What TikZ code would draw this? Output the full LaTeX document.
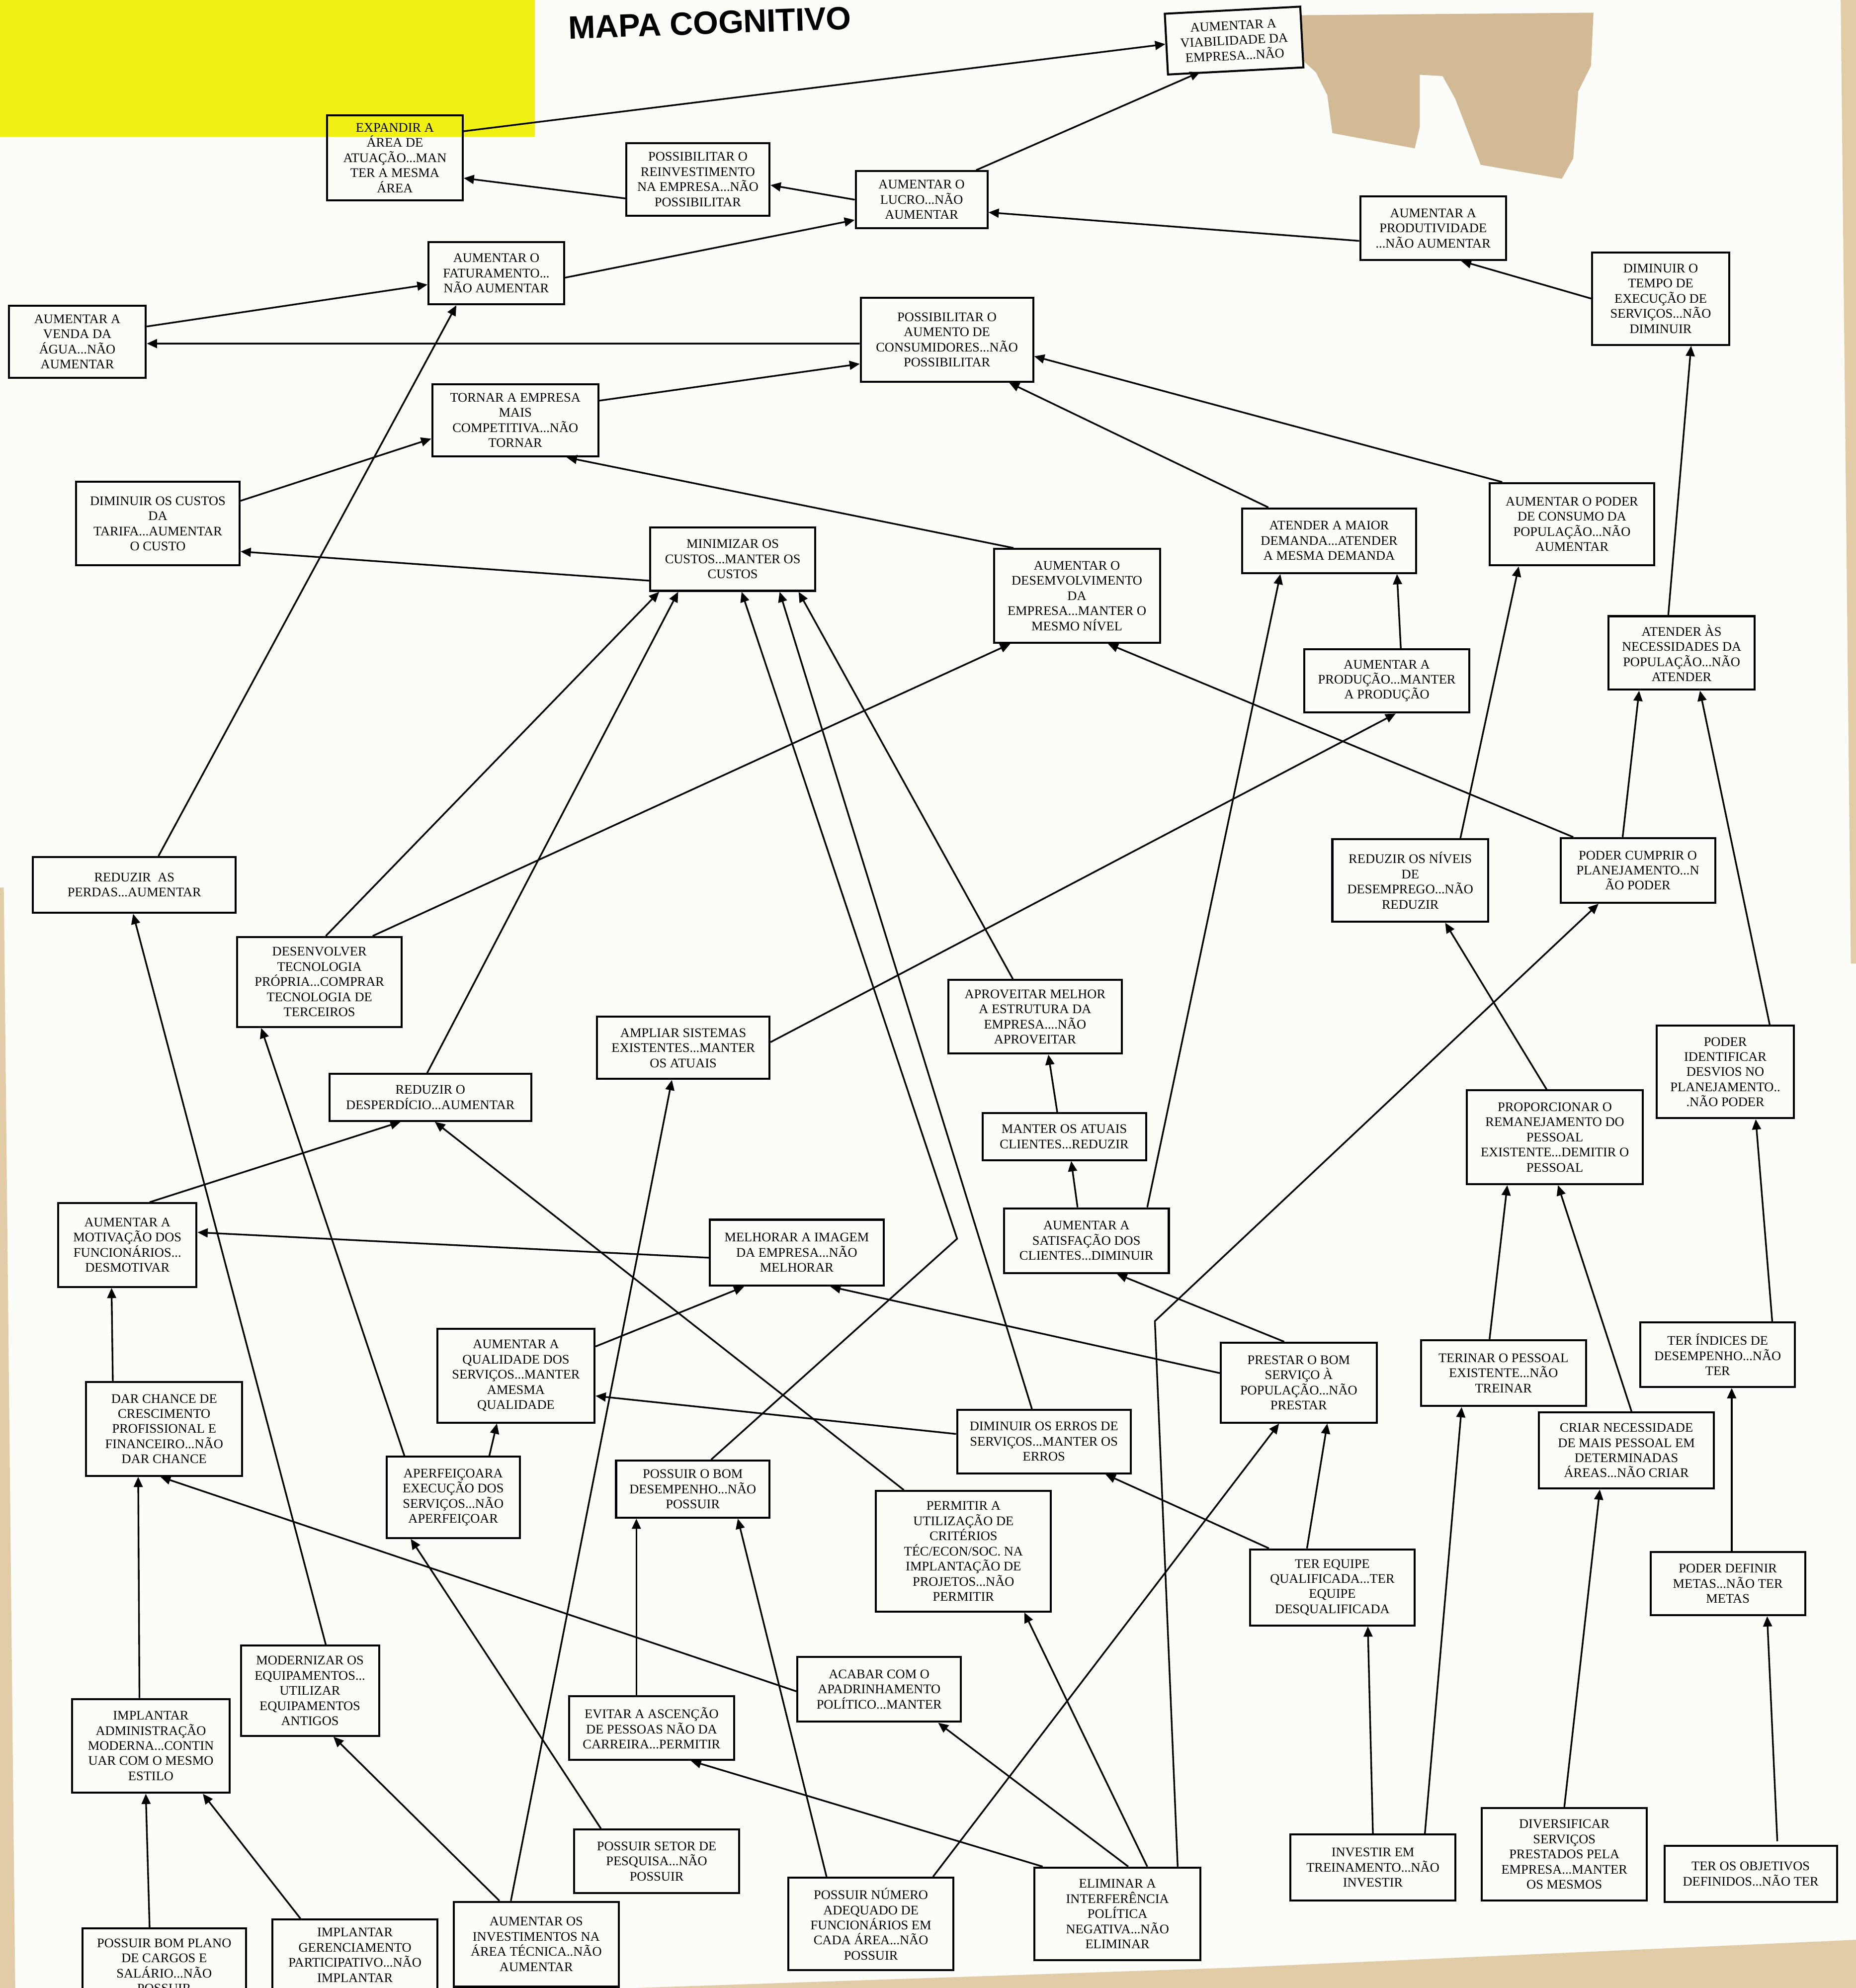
\documentclass[tikz,border=0pt]{standalone}
\usepackage{fontspec}
\setmainfont{Liberation Serif}
\newfontfamily\titlefont{Liberation Sans}
\usetikzlibrary{arrows.meta,calc}

\definecolor{papel}{RGB}{252,252,248}
\definecolor{marca}{RGB}{240,240,18}
\definecolor{rasgo}{RGB}{210,186,150}
\definecolor{mesa}{RGB}{226,204,168}

\begin{document}
\begin{tikzpicture}[x=0.02cm,y=-0.02cm,
  conceito/.style={draw=black,line width=0.9pt,align=center,inner sep=1pt,
    font={\fontsize{5.9}{6.8}\selectfont}},
  tam/.style 2 args={minimum width=#1*0.02cm,minimum height=#2*0.02cm},
  seta/.style={line width=0.75pt,-{Triangle[length=4.6pt,width=4pt]}}]
\useasboundingbox (0,0) rectangle (1464,1568);
\clip (0,0) rectangle (1464,1568);
\fill[papel] (0,0) rectangle (1464,1568);
\fill[marca] (0,0) rectangle (422,108);
\fill[rasgo] (1026,12) -- (1257,10) -- (1255,52) -- (1245,72) -- (1241,125) -- (1232,141)
  -- (1168,130) -- (1148,78) -- (1138,60) -- (1120,59) -- (1120,100) -- (1116,117)
  -- (1051,105) -- (1047,75) -- (1038,57) -- (1027,47) -- cycle;
\fill[mesa] (1452,0) -- (1464,0) -- (1464,760) -- (1460,760) -- cycle;
\fill[mesa] (0,700) -- (3,700) -- (12,1568) -- (0,1568) -- cycle;
\fill[mesa] (500,1568) -- (972,1552) -- (1464,1530) -- (1464,1568) -- cycle;

\node (titulo) at (560,18) [rotate=2,font={\titlefont\bfseries\fontsize{14.5}{17}\selectfont}]{MAPA COGNITIVO};

\node (expandir) at (311.5,124.5) [conceito,tam={107}{67}]{EXPANDIR A\\ÁREA DE\\ATUAÇÃO...MAN\\TER A MESMA\\ÁREA};
\node (viab) at (973.5,32) [conceito,tam={107}{48},rotate=3]{AUMENTAR A\\VIABILIDADE DA\\EMPRESA...NÃO};
\node (reinvest) at (550.5,141.5) [conceito,tam={113}{57}]{POSSIBILITAR O\\REINVESTIMENTO\\NA EMPRESA...NÃO\\POSSIBILITAR};
\node (lucro) at (727,157.5) [conceito,tam={104}{45}]{AUMENTAR O\\LUCRO...NÃO\\AUMENTAR};
\node (produt) at (1130.5,180) [conceito,tam={115}{50}]{AUMENTAR A\\PRODUTIVIDADE\\...NÃO AUMENTAR};
\node (tempo) at (1310,235.5) [conceito,tam={108}{73}]{DIMINUIR O\\TEMPO DE\\EXECUÇÃO DE\\SERVIÇOS...NÃO\\DIMINUIR};
\node (fatur) at (391.5,215.5) [conceito,tam={107}{49}]{AUMENTAR O\\FATURAMENTO...\\NÃO AUMENTAR};
\node (venda) at (61,269.5) [conceito,tam={108}{57}]{AUMENTAR A\\VENDA DA\\ÁGUA...NÃO\\AUMENTAR};
\node (consum) at (747,268) [conceito,tam={136}{66}]{POSSIBILITAR O\\AUMENTO DE\\CONSUMIDORES...NÃO\\POSSIBILITAR};
\node (compet) at (406.5,331.5) [conceito,tam={131}{57}]{TORNAR A EMPRESA\\MAIS\\COMPETITIVA...NÃO\\TORNAR};
\node (tarifa) at (124.5,413) [conceito,tam={129}{66}]{DIMINUIR OS CUSTOS\\DA\\TARIFA...AUMENTAR\\O CUSTO};
\node (minim) at (578,441) [conceito,tam={130}{50}]{MINIMIZAR OS\\CUSTOS...MANTER OS\\CUSTOS};
\node (desenv) at (849.5,470) [conceito,tam={131}{74}]{AUMENTAR O\\DESEMVOLVIMENTO\\DA\\EMPRESA...MANTER O\\MESMO NÍVEL};
\node (demanda) at (1048.5,426.5) [conceito,tam={137}{51}]{ATENDER A MAIOR\\DEMANDA...ATENDER\\A MESMA DEMANDA};
\node (poderc) at (1240,413.5) [conceito,tam={130}{65}]{AUMENTAR O PODER\\DE CONSUMO DA\\POPULAÇÃO...NÃO\\AUMENTAR};
\node (producao) at (1094,537) [conceito,tam={130}{50}]{AUMENTAR A\\PRODUÇÃO...MANTER\\A PRODUÇÃO};
\node (necess) at (1326.5,515) [conceito,tam={115}{58}]{ATENDER ÀS\\NECESSIDADES DA\\POPULAÇÃO...NÃO\\ATENDER};
\node (perdas) at (106,698) [conceito,tam={160}{44}]{REDUZIR\ \ AS\\PERDAS...AUMENTAR};
\node (desemp) at (1112.5,694.5) [conceito,tam={123}{65}]{REDUZIR OS NÍVEIS\\DE\\DESEMPREGO...NÃO\\REDUZIR};
\node (planej) at (1292,686.5) [conceito,tam={122}{51}]{PODER CUMPRIR O\\PLANEJAMENTO...N\\ÃO PODER};
\node (tecno) at (252,774.5) [conceito,tam={130}{71}]{DESENVOLVER\\TECNOLOGIA\\PRÓPRIA...COMPRAR\\TECNOLOGIA DE\\TERCEIROS};
\node (aprov) at (816.5,802) [conceito,tam={137}{58}]{APROVEITAR MELHOR\\A ESTRUTURA DA\\EMPRESA....NÃO\\APROVEITAR};
\node (ampliar) at (539,826.5) [conceito,tam={136}{49}]{AMPLIAR SISTEMAS\\EXISTENTES...MANTER\\OS ATUAIS};
\node (ident) at (1361,845.5) [conceito,tam={108}{73}]{PODER\\IDENTIFICAR\\DESVIOS NO\\PLANEJAMENTO..\\.NÃO PODER};
\node (desperd) at (339.5,865.5) [conceito,tam={159}{37}]{REDUZIR O\\DESPERDÍCIO...AUMENTAR};
\node (clientes) at (839.5,896.5) [conceito,tam={129}{37}]{MANTER OS ATUAIS\\CLIENTES...REDUZIR};
\node (reman) at (1226.5,897) [conceito,tam={139}{74}]{PROPORCIONAR O\\REMANEJAMENTO DO\\PESSOAL\\EXISTENTE...DEMITIR O\\PESSOAL};
\node (motiv) at (100.5,982) [conceito,tam={109}{66}]{AUMENTAR A\\MOTIVAÇÃO DOS\\FUNCIONÁRIOS...\\DESMOTIVAR};
\node (imagem) at (628.5,988) [conceito,tam={137}{52}]{MELHORAR A IMAGEM\\DA EMPRESA...NÃO\\MELHORAR};
\node (satisf) at (857,978.5) [conceito,tam={130}{51}]{AUMENTAR A\\SATISFAÇÃO DOS\\CLIENTES...DIMINUIR};
\node (qualid) at (407,1085) [conceito,tam={124}{74}]{AUMENTAR A\\QUALIDADE DOS\\SERVIÇOS...MANTER\\AMESMA\\QUALIDADE};
\node (prestar) at (1024.5,1090.5) [conceito,tam={123}{63}]{PRESTAR O BOM\\SERVIÇO À\\POPULAÇÃO...NÃO\\PRESTAR};
\node (treinar) at (1186,1083) [conceito,tam={130}{52}]{TERINAR O PESSOAL\\EXISTENTE...NÃO\\TREINAR};
\node (indices) at (1355,1068.5) [conceito,tam={122}{51}]{TER ÍNDICES DE\\DESEMPENHO...NÃO\\TER};
\node (cresc) at (129.5,1127) [conceito,tam={123}{74}]{DAR CHANCE DE\\CRESCIMENTO\\PROFISSIONAL E\\FINANCEIRO...NÃO\\DAR CHANCE};
\node (erros) at (823.5,1137) [conceito,tam={137}{50}]{DIMINUIR OS ERROS DE\\SERVIÇOS...MANTER OS\\ERROS};
\node (aperf) at (357.5,1181) [conceito,tam={105}{64}]{APERFEIÇOARA\\EXECUÇÃO DOS\\SERVIÇOS...NÃO\\APERFEIÇOAR};
\node (bomdes) at (546.5,1174.5) [conceito,tam={121}{45}]{POSSUIR O BOM\\DESEMPENHO...NÃO\\POSSUIR};
\node (criter) at (760,1223.5) [conceito,tam={138}{95}]{PERMITIR A\\UTILIZAÇÃO DE\\CRITÉRIOS\\TÉC/ECON/SOC. NA\\IMPLANTAÇÃO DE\\PROJETOS...NÃO\\PERMITIR};
\node (criar) at (1283,1144) [conceito,tam={138}{60}]{CRIAR NECESSIDADE\\DE MAIS PESSOAL EM\\DETERMINADAS\\ÁREAS...NÃO CRIAR};
\node (equipe) at (1051,1252) [conceito,tam={130}{60}]{TER EQUIPE\\QUALIFICADA...TER\\EQUIPE\\DESQUALIFICADA};
\node (metas) at (1363,1249) [conceito,tam={122}{50}]{PODER DEFINIR\\METAS...NÃO TER\\METAS};
\node (modern) at (244.5,1333.5) [conceito,tam={109}{71}]{MODERNIZAR OS\\EQUIPAMENTOS...\\UTILIZAR\\EQUIPAMENTOS\\ANTIGOS};
\node (apadr) at (693.5,1332.5) [conceito,tam={129}{51}]{ACABAR COM O\\APADRINHAMENTO\\POLÍTICO...MANTER};
\node (admmod) at (119,1377) [conceito,tam={124}{74}]{IMPLANTAR\\ADMINISTRAÇÃO\\MODERNA...CONTIN\\UAR COM O MESMO\\ESTILO};
\node (ascen) at (514,1363) [conceito,tam={130}{50}]{EVITAR A ASCENÇÃO\\DE PESSOAS NÃO DA\\CARREIRA...PERMITIR};
\node (pesquisa) at (518,1468) [conceito,tam={130}{50}]{POSSUIR SETOR DE\\PESQUISA...NÃO\\POSSUIR};
\node (invtrein) at (1083,1473) [conceito,tam={130}{52}]{INVESTIR EM\\TREINAMENTO...NÃO\\INVESTIR};
\node (divers) at (1234,1462.5) [conceito,tam={130}{73}]{DIVERSIFICAR\\SERVIÇOS\\PRESTADOS PELA\\EMPRESA...MANTER\\OS MESMOS};
\node (objet) at (1381,1478) [conceito,tam={136}{44}]{TER OS OBJETIVOS\\DEFINIDOS...NÃO TER};
\node (interf) at (881.5,1509.5) [conceito,tam={131}{73}]{ELIMINAR A\\INTERFERÊNCIA\\POLÍTICA\\NEGATIVA...NÃO\\ELIMINAR};
\node (numfunc) at (687,1517.5) [conceito,tam={130}{73}]{POSSUIR NÚMERO\\ADEQUADO DE\\FUNCIONÁRIOS EM\\CADA ÁREA...NÃO\\POSSUIR};
\node (invtec) at (423,1533.5) [conceito,tam={130}{67}]{AUMENTAR OS\\INVESTIMENTOS NA\\ÁREA TÉCNICA..NÃO\\AUMENTAR};
\node (gerenc) at (280,1542) [conceito,tam={130}{56}]{IMPLANTAR\\GERENCIAMENTO\\PARTICIPATIVO...NÃO\\IMPLANTAR};
\node (plano) at (129.5,1550.5) [conceito,tam={129}{59}]{POSSUIR BOM PLANO\\DE CARGOS E\\SALÁRIO...NÃO\\POSSUIR};

\coordinate (dobra1) at (755,977);
\coordinate (dobra2) at (911,1042);

\draw[seta] ($(expandir.east)+(0,-21)$) -- (viab.west);
\draw[seta] ($(lucro.north)+(43,0)$) -- ($(viab.south)+(-28,0)$);
\draw[seta] (lucro.west) -- ($(reinvest.east)+(0,4.5)$);
\draw[seta] ($(reinvest.west)+(0,15)$) -- ($(expandir.east)+(0,16)$);
\draw[seta] ($(fatur.east)+(0,3.5)$) -- ($(lucro.west)+(0,16)$);
\draw[seta] ($(produt.west)+(0,10)$) -- ($(lucro.east)+(0,10)$);
\draw[seta] (tempo.west) -- ($(produt.south)+(22,0)$);
\draw[seta] ($(venda.east)+(0,-12)$) -- ($(fatur.west)+(0,9)$);
\draw[seta] ($(consum.west)+(0,3)$) -- ($(venda.east)+(0,1.5)$);
\draw[seta] ($(compet.east)+(0,-15.5)$) -- ($(consum.west)+(0,19)$);
\draw[seta] ($(tarifa.east)+(0,-18)$) -- ($(compet.west)+(0,14.5)$);
\draw[seta] ($(minim.west)+(0,17)$) -- ($(tarifa.east)+(0,22)$);
\draw[seta] ($(desenv.north)+(-50,0)$) -- ($(compet.south)+(40.5,0)$);
\draw[seta] ($(demanda.north)+(-48,0)$) -- ($(consum.south)+(49,0)$);
\draw[seta] ($(poderc.north)+(-55,0)$) -- ($(consum.east)+(0,13)$);
\draw[seta] ($(perdas.north)+(19,0)$) -- ($(fatur.south)+(-31.5,0)$);
\draw[seta] ($(necess.north)+(-10.5,0)$) -- ($(tempo.south)+(24,0)$);
\draw[seta] ($(producao.north)+(11,0)$) -- ($(demanda.south)+(53.5,0)$);
\draw[seta] ($(desemp.north)+(39.5,0)$) -- ($(poderc.south)+(-42,0)$);
\draw[seta] ($(satisf.north)+(48,0)$) -- ($(demanda.south)+(-38.5,0)$);
\draw[seta] ($(planej.north)+(-51,0)$) -- ($(desenv.south)+(24.5,0)$);
\draw[seta] ($(planej.north)+(-12,0)$) -- ($(necess.south)+(-33.5,0)$);
\draw[seta] ($(ident.north)+(35,0)$) -- ($(necess.south)+(14.5,0)$);
\draw[seta] ($(tecno.north)+(5,0)$) -- ($(minim.south)+(-58,0)$);
\draw[seta] ($(tecno.north)+(42,0)$) -- ($(desenv.south)+(-52.5,0)$);
\draw[seta] ($(desperd.north)+(-2.5,0)$) -- ($(minim.south)+(-43,0)$);
\draw[seta] ($(bomdes.north)+(14.5,0)$) -- (dobra1) -- ($(minim.south)+(7,0)$);
\draw[seta] ($(erros.north)+(-9.5,0)$) -- ($(minim.south)+(37,0)$);
\draw[seta] ($(aprov.north)+(-17.5,0)$) -- ($(minim.south)+(52,0)$);
\draw[seta] ($(ampliar.east)+(0,-4.5)$) -- ($(producao.south)+(7,0)$);
\draw[seta] ($(reman.north)+(-6.5,0)$) -- ($(desemp.south)+(27.5,0)$);
\draw[seta] ($(interf.north)+(47.5,0)$) -- (dobra2) -- ($(planej.south)+(-31,0)$);
\draw[seta] ($(indices.north)+(43,0)$) -- ($(ident.south)+(24,0)$);
\draw[seta] ($(clientes.north)+(-5.5,0)$) -- ($(aprov.south)+(10.5,0)$);
\draw[seta] ($(satisf.north)+(-7,0)$) -- ($(clientes.south)+(5.5,0)$);
\draw[seta] ($(treinar.north)+(-11,0)$) -- ($(reman.south)+(-37.5,0)$);
\draw[seta] ($(criar.north)+(4,0)$) -- ($(reman.south)+(2.5,0)$);
\draw[seta] ($(motiv.north)+(17.5,0)$) -- ($(desperd.south)+(-23.5,0)$);
\draw[seta] ($(imagem.west)+(0,4)$) -- ($(motiv.east)+(0,-10)$);
\draw[seta] ($(qualid.east)+(0,-23)$) -- ($(imagem.south)+(-41.5,0)$);
\draw[seta] ($(prestar.west)+(0,-7.5)$) -- ($(imagem.south)+(26.5,0)$);
\draw[seta] ($(prestar.north)+(-11.5,0)$) -- ($(satisf.south)+(24,0)$);
\draw[seta] ($(erros.west)+(0,-6)$) -- ($(qualid.east)+(0,16)$);
\draw[seta] ($(cresc.north)+(-40.5,0)$) -- ($(motiv.south)+(-12.5,0)$);
\draw[seta] ($(aperf.north)+(28.5,0)$) -- ($(qualid.south)+(-15,0)$);
\draw[seta] ($(criter.north)+(-47,0)$) -- ($(desperd.south)+(3.5,0)$);
\draw[seta] ($(equipe.north)+(-50,0)$) -- ($(erros.south)+(48.5,0)$);
\draw[seta] ($(equipe.north)+(-20,0)$) -- ($(prestar.south)+(22.5,0)$);
\draw[seta] ($(numfunc.north)+(49,0)$) -- ($(prestar.south)+(-15.5,0)$);
\draw[seta] ($(invtrein.north)+(41,0)$) -- ($(treinar.south)+(-33,0)$);
\draw[seta] (invtrein.north) -- ($(equipe.south)+(28,0)$);
\draw[seta] (divers.north) -- ($(criar.south)+(-21,0)$);
\draw[seta] ($(metas.north)+(3,0)$) -- ($(indices.south)+(11,0)$);
\draw[seta] ($(objet.north)+(21,-3)$) -- ($(metas.south)+(31,0)$);
\draw[seta] ($(modern.north)+(12.5,0)$) -- ($(perdas.south)+(-1,0)$);
\draw[seta] ($(aperf.north)+(-38.5,0)$) -- ($(tecno.south)+(-46,0)$);
\draw[seta] ($(apadr.west)+(0,1.5)$) -- ($(cresc.south)+(-3,0)$);
\draw[seta] ($(admmod.north)+(-9,0)$) -- ($(cresc.south)+(-20.5,0)$);
\draw[seta] ($(plano.north)+(-11.5,0)$) -- ($(admmod.south)+(-4,0)$);
\draw[seta] ($(gerenc.north)+(-43,0)$) -- ($(admmod.south)+(41,0)$);
\draw[seta] ($(invtec.north)+(-29,0)$) -- ($(modern.south)+(18.5,0)$);
\draw[seta] ($(invtec.north)+(-20,0)$) -- ($(ampliar.south)+(-9,0)$);
\draw[seta] ($(pesquisa.north)+(-44,0)$) -- ($(aperf.south)+(-33.5,0)$);
\draw[seta] ($(ascen.north)+(-12,0)$) -- ($(bomdes.south)+(-44.5,0)$);
\draw[seta] ($(numfunc.north)+(-35,0)$) -- ($(bomdes.south)+(35.5,0)$);
\draw[seta] ($(interf.north)+(-59,0)$) -- ($(ascen.south)+(31,0)$);
\draw[seta] ($(interf.north)+(8.5,0)$) -- ($(apadr.south)+(46.5,0)$);
\draw[seta] ($(interf.north)+(23.5,0)$) -- ($(criter.south)+(48,0)$);
\end{tikzpicture}
\end{document}
